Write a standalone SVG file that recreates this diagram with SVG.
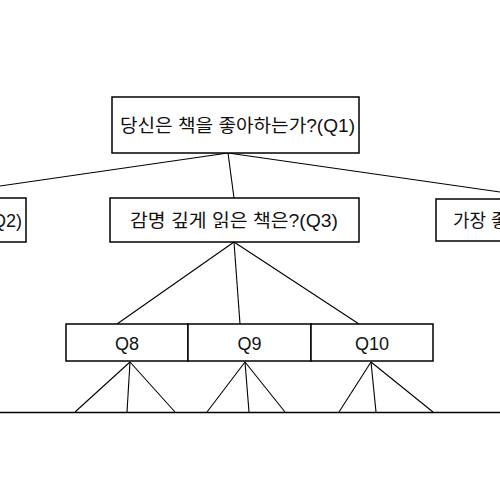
<svg xmlns="http://www.w3.org/2000/svg" width="500" height="500" viewBox="0 0 500 500">
<style>
.box{fill:#fff;stroke:#000;stroke-width:1.5}
.t{font-family:"Liberation Sans","Noto Sans CJK KR",sans-serif;font-size:18px;fill:#111;text-anchor:middle}
.c{stroke:#000;stroke-width:1.1;fill:none}
</style>
<rect width="500" height="500" fill="#fff"/>
<g id="connectors">
<line class="c" x1="228" y1="153" x2="0" y2="186"/>
<line class="c" x1="228" y1="153" x2="234" y2="198"/>
<line class="c" x1="228" y1="153" x2="500" y2="192"/>
<line class="c" x1="234" y1="242" x2="117" y2="324"/>
<line class="c" x1="234" y1="242" x2="240" y2="324"/>
<line class="c" x1="234" y1="242" x2="359" y2="324"/>
<line class="c" x1="130" y1="362" x2="75" y2="412"/>
<line class="c" x1="130" y1="362" x2="127" y2="412"/>
<line class="c" x1="130" y1="362" x2="175" y2="412"/>
<line class="c" x1="245" y1="362" x2="207" y2="412"/>
<line class="c" x1="245" y1="362" x2="249" y2="412"/>
<line class="c" x1="245" y1="362" x2="285" y2="412"/>
<line class="c" x1="371" y1="362" x2="339" y2="412"/>
<line class="c" x1="371" y1="362" x2="376" y2="412"/>
<line class="c" x1="371" y1="362" x2="433" y2="412"/>
<line x1="0" y1="412.5" x2="500" y2="412.5" stroke="#000" stroke-width="1.6"/>
</g>
<g id="q1">
<rect class="box" x="112" y="97" width="247" height="56"/>
<text class="t" x="237.5" y="132" textLength="235" lengthAdjust="spacingAndGlyphs">당신은 책을 좋아하는가?(Q1)</text>
</g>
<g id="q2">
<rect class="box" x="-20" y="198" width="46" height="44"/>
<text class="t" x="22" y="227" style="text-anchor:end">(Q2)</text>
</g>
<g id="q3">
<rect class="box" x="110" y="198" width="249" height="44"/>
<text class="t" x="234" y="227" textLength="208" lengthAdjust="spacingAndGlyphs">감명 깊게 읽은 책은?(Q3)</text>
</g>
<g id="q4">
<rect class="box" x="436" y="199" width="80" height="42"/>
<text class="t" x="453" y="227" style="text-anchor:start">가장 좋</text>
</g>
<g id="q8">
<rect class="box" x="66" y="324" width="122" height="37"/>
<text class="t" x="127" y="349.5">Q8</text>
</g>
<g id="q9">
<rect class="box" x="188" y="324" width="123" height="37"/>
<text class="t" x="249.5" y="349.5">Q9</text>
</g>
<g id="q10">
<rect class="box" x="311" y="324" width="122" height="37"/>
<text class="t" x="372" y="349.5">Q10</text>
</g>
</svg>
